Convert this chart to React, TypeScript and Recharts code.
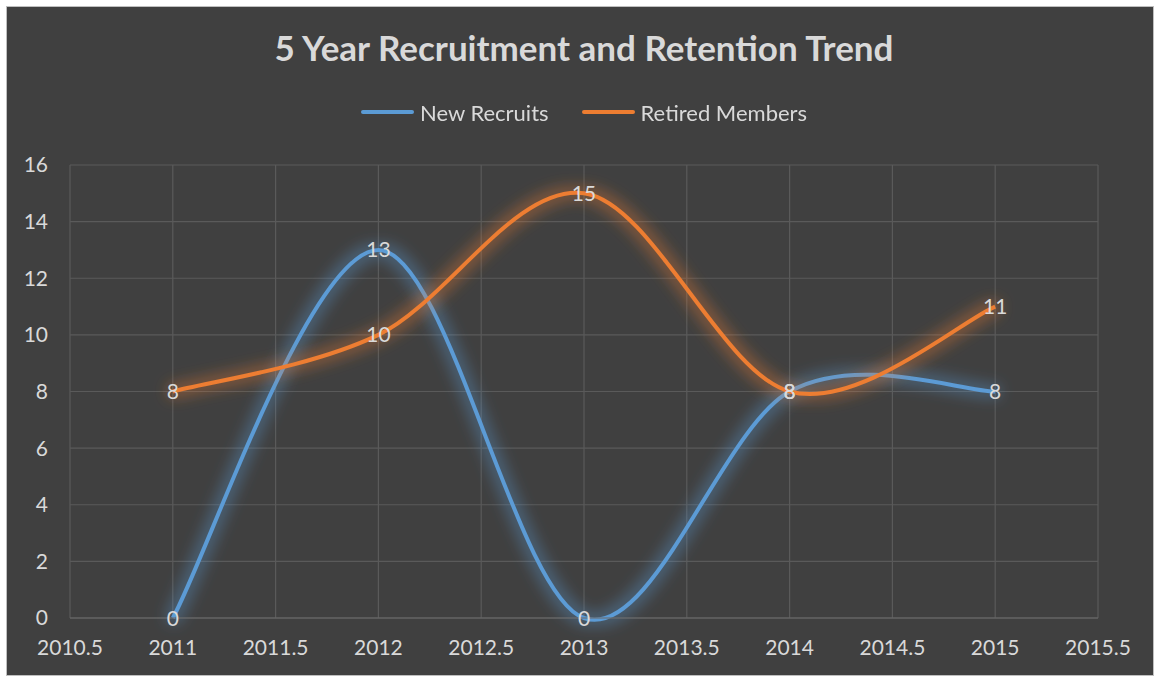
import React from "react";
import { CartesianGrid, Legend, Line, LineChart, XAxis, YAxis } from "recharts";

const years = [2011, 2012, 2013, 2014, 2015];
const newRecruits = [0, 13, 0, 8, 8];
const retiredMembers = [8, 10, 15, 8, 11];
const xTicks = [2010.5, 2011, 2011.5, 2012, 2012.5, 2013, 2013.5, 2014, 2014.5, 2015, 2015.5];
const yTicks = [0, 2, 4, 6, 8, 10, 12, 14, 16];

const data = years.map((year, i) => ({ year, recruits: newRecruits[i], retired: retiredMembers[i] }));

const BLUE = "#5b9bd5";
const ORANGE = "#ed7d31";
const TEXT = "#d9d9d9";
const FONT = "Lato, 'Open Sans', sans-serif";

// excel-style smoothing (catmull-rom through every point)
function smoothCurve(context: any) {
  let pts: number[][] = [];
  return {
    areaStart() {},
    areaEnd() {},
    lineStart() {
      pts = [];
    },
    point(x: number, y: number) {
      pts.push([+x, +y]);
    },
    lineEnd() {
      if (!pts.length) return;
      context.moveTo(pts[0][0], pts[0][1]);
      for (let i = 0; i < pts.length - 1; i++) {
        const p0 = pts[i - 1] || pts[i];
        const p1 = pts[i];
        const p2 = pts[i + 1];
        const p3 = pts[i + 2] || p2;
        context.bezierCurveTo(
          p1[0] + (p2[0] - p0[0]) / 6,
          p1[1] + (p2[1] - p0[1]) / 6,
          p2[0] - (p3[0] - p1[0]) / 6,
          p2[1] - (p3[1] - p1[1]) / 6,
          p2[0],
          p2[1]
        );
      }
    },
  };
}

const renderLabel = (props: any) => {
  const { x, y, value } = props;
  return (
    <text x={x} y={y} dy="0.36em" textAnchor="middle" fill={TEXT} fontSize={21} fontFamily={FONT}>
      {value}
    </text>
  );
};

const renderLegend = () => (
  <div style={{ display: "flex", justifyContent: "center", alignItems: "center", height: 30, fontFamily: FONT, fontSize: 22, color: TEXT }}>
    {[
      { name: "New Recruits", color: BLUE },
      { name: "Retired Members", color: ORANGE },
    ].map((item, i) => (
      <div key={item.name} style={{ display: "flex", alignItems: "center", marginLeft: i ? 33 : 0 }}>
        <span style={{ display: "inline-block", width: 53, height: 4, borderRadius: 2, background: item.color, marginRight: 6 }} />
        <span>{item.name}</span>
      </div>
    ))}
  </div>
);

function Glow({ id, color }: { id: string; color: string }) {
  return (
    <filter id={id} x="0" y="0" width="1146" height="668" filterUnits="userSpaceOnUse">
      <feMorphology in="SourceAlpha" operator="dilate" radius="5" result="d" />
      <feGaussianBlur in="d" stdDeviation="7" result="b" />
      <feFlood floodColor={color} floodOpacity="0.35" />
      <feComposite in2="b" operator="in" result="g" />
      <feMerge>
        <feMergeNode in="g" />
        <feMergeNode in="SourceGraphic" />
      </feMerge>
    </filter>
  );
}

export default function App() {
  return (
    <div
      style={{
        position: "fixed",
        left: 6,
        top: 6,
        width: 1148,
        height: 670,
        boxSizing: "border-box",
        border: "1px solid #bfbfbf",
        background: "#404040",
      }}
    >
      <div
        style={{
          position: "absolute",
          left: 63,
          width: 1028,
          top: 19,
          textAlign: "center",
          fontFamily: FONT,
          fontWeight: 700,
          fontSize: 35,
          color: TEXT,
          zIndex: 2,
        }}
      >
        5 Year Recruitment and Retention Trend
      </div>
      <LineChart width={1146} height={668} data={data} margin={{ top: 128, right: 55, bottom: 17, left: 0 }}>
        <defs>
          <Glow id="glowBlue" color={BLUE} />
          <Glow id="glowOrange" color={ORANGE} />
        </defs>
        <CartesianGrid stroke="#5a5a5a" strokeWidth={1.2} verticalValues={xTicks} horizontalValues={yTicks} />
        <XAxis
          dataKey="year"
          type="number"
          domain={[2010.5, 2015.5]}
          ticks={xTicks}
          interval={0}
          axisLine={{ stroke: "#6a6a6a", strokeWidth: 1.2 }}
          tickLine={false}
          tickSize={0}
          tickMargin={22}
          height={40}
          tick={{ fill: TEXT, fontSize: 21, fontFamily: FONT }}
        />
        <YAxis
          type="number"
          domain={[0, 16]}
          ticks={yTicks}
          interval={0}
          width={63}
          axisLine={false}
          tickLine={false}
          tickSize={0}
          tickMargin={22}
          tick={{ fill: TEXT, fontSize: 21, fontFamily: FONT }}
        />
        <Legend verticalAlign="top" content={renderLegend} wrapperStyle={{ top: 90, left: 4, width: 1146, height: 30 }} />
        <Line
          dataKey="recruits"
          name="New Recruits"
          type={smoothCurve as any}
          stroke={BLUE}
          strokeWidth={4}
          dot={false}
          activeDot={false}
          filter="url(#glowBlue)"
          label={renderLabel}
          isAnimationActive={false}
        />
        <Line
          dataKey="retired"
          name="Retired Members"
          type={smoothCurve as any}
          stroke={ORANGE}
          strokeWidth={4}
          dot={false}
          activeDot={false}
          filter="url(#glowOrange)"
          label={renderLabel}
          isAnimationActive={false}
        />
      </LineChart>
    </div>
  );
}
